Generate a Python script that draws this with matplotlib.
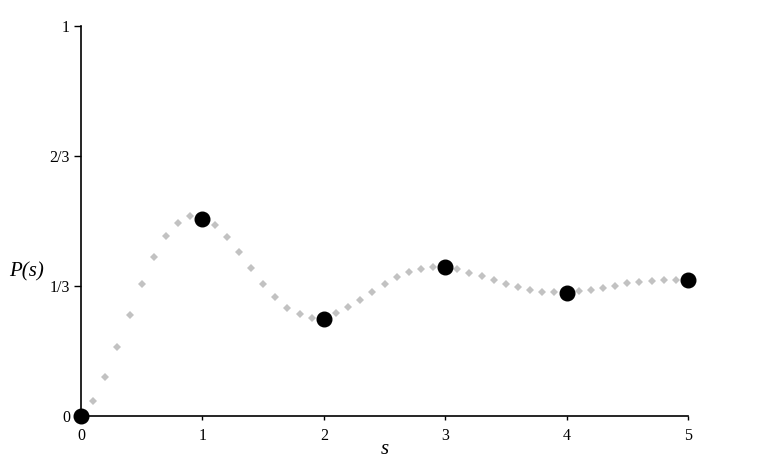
import matplotlib
matplotlib.use("Agg")
import matplotlib.pyplot as plt

s_fine = [0.1, 0.2, 0.3, 0.4, 0.5, 0.6, 0.7, 0.8, 0.9,
          1.1, 1.2, 1.3, 1.4, 1.5, 1.6, 1.7, 1.8, 1.9,
          2.1, 2.2, 2.3, 2.4, 2.5, 2.6, 2.7, 2.8, 2.9,
          3.1, 3.2, 3.3, 3.4, 3.5, 3.6, 3.7, 3.8, 3.9,
          4.1, 4.2, 4.3, 4.4, 4.5, 4.6, 4.7, 4.8, 4.9]
p_fine = [0.038, 0.100, 0.177, 0.259, 0.337, 0.407, 0.461, 0.495, 0.511,
          0.488, 0.457, 0.419, 0.378, 0.338, 0.304, 0.276, 0.260, 0.251,
          0.263, 0.278, 0.297, 0.318, 0.338, 0.355, 0.369, 0.377, 0.381,
          0.375, 0.367, 0.358, 0.348, 0.338, 0.330, 0.323, 0.318, 0.316,
          0.319, 0.323, 0.328, 0.333, 0.339, 0.342, 0.346, 0.347, 0.348]

# P(s) at integer s (black dots)
s_int = [0, 1, 2, 3, 4, 5]
p_int = [0.0, 0.505, 0.249, 0.381, 0.314, 0.347]

y_ticks = [0, 1 / 3, 2 / 3, 1]
y_tick_labels = ["0", "1/3", "2/3", "1"]

plt.rcParams["font.family"] = ["Liberation Serif", "DejaVu Serif"]

fig = plt.figure(figsize=(7.68, 4.71), dpi=100)
ax = fig.add_axes([81 / 768, 1 - 415.5 / 471, 607 / 768, 389.5 / 471])

ax.plot(s_fine, p_fine, linestyle="none", marker="D", markersize=4.5,
        color="#c2c2c2", markeredgewidth=0, clip_on=False)
ax.plot(s_int, p_int, linestyle="none", marker="o", markersize=10.5,
        color="black", clip_on=False, zorder=5)

ax.set_xlim(0, 5)
ax.set_ylim(0, 1)
ax.set_xticks(s_int)
ax.set_yticks(y_ticks)
ax.set_yticklabels(y_tick_labels)

for side in ("top", "right"):
    ax.spines[side].set_visible(False)
for side in ("left", "bottom"):
    ax.spines[side].set_linewidth(1.2)

ax.tick_params(axis="y", direction="out", length=5, width=1, labelsize=11.5, pad=3)
ax.tick_params(axis="x", direction="out", length=3, width=1, labelsize=11.5, pad=6)

ax.set_xlabel("s", fontsize=15, style="italic", labelpad=-3)
ax.set_ylabel("P(s)", fontsize=15, style="italic", rotation=0)
ax.yaxis.set_label_coords(-0.09, 0.345)

fig.savefig("out.png", dpi=100, facecolor="white")
